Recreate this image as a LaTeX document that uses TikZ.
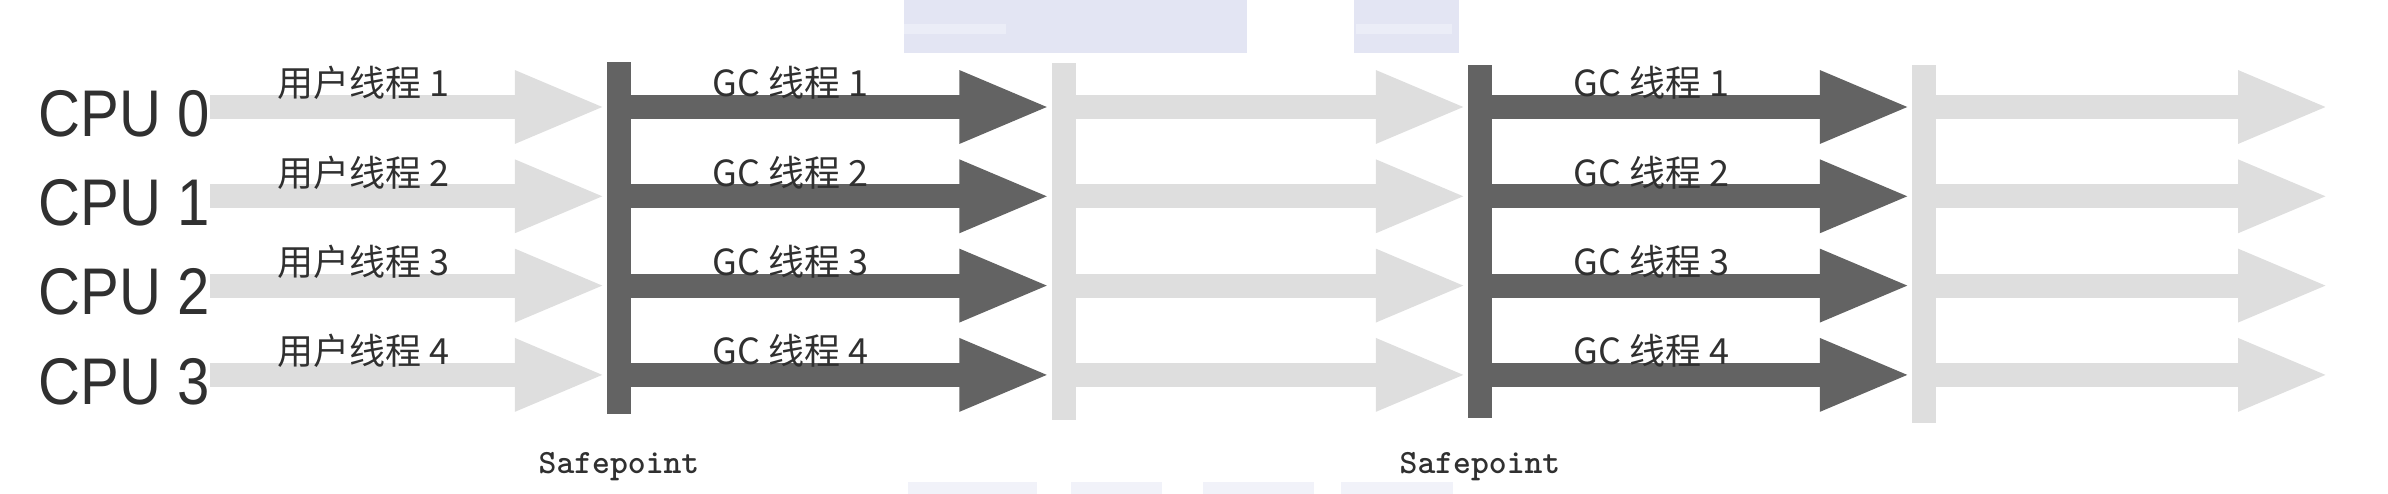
\documentclass[tikz,border=0pt]{standalone}
\usepackage{fontspec}
\newfontfamily\cpufont[FakeStretch=0.88]{Liberation Sans}
\newfontfamily\cjkfont{Noto Sans CJK SC}
\usetikzlibrary{arrows.meta}

\definecolor{gcgray}{HTML}{636363}
\definecolor{usergray}{HTML}{DEDEDE}
\definecolor{textgray}{HTML}{303030}
\definecolor{watermark}{HTML}{E3E5F3}

\tikzset{
  cpu/.style={anchor=east, inner sep=0pt, text=textgray, font=\cpufont\fontsize{66}{66}\selectfont},
  thread/.style={anchor=base west, inner sep=0pt, text=textgray, font=\cjkfont\fontsize{36}{36}\selectfont},
  safe/.style={anchor=base, inner sep=0pt, text=textgray, font=\ttfamily\bfseries\fontsize{34}{34}\selectfont},
  userarrow/.style={draw=usergray, line width=24pt, -{Triangle[length=92pt,width=66pt]}},
  gcarrow/.style={userarrow, draw=gcgray},
  darkbar/.style={fill=gcgray, minimum width=24pt, inner sep=0pt},
  lightbar/.style={fill=usergray, minimum width=24pt, inner sep=0pt},
}

\begin{document}
\begin{tikzpicture}[x=1pt, y=-1pt]
\useasboundingbox (0,0) rectangle (2388,494);
% fond
\fill [watermark] (904,0) rectangle (1247,53);
\fill [watermark] (1354,0) rectangle (1459,53);
\fill [watermark!70] (904,24) rectangle (1006,34);
\fill [watermark!70] (1356,24) rectangle (1452,34);
\fill [watermark!50] (908,482) rectangle (1037,494);
\fill [watermark!50] (1071,482) rectangle (1162,494);
\fill [watermark!50] (1203,482) rectangle (1314,494);
\fill [watermark!50] (1341,482) rectangle (1453,494);
% barres
\node [darkbar, minimum height=352pt] (safepoint1) at (619,238) {};
\node [lightbar, minimum height=357pt] (resume1) at (1063.5,241.5) {};
\node [darkbar, minimum height=353pt] (safepoint2) at (1480,241.5) {};
\node [lightbar, minimum height=358pt] (resume2) at (1924,244) {};
\node [safe] (sp1) at (619,473) {Safepoint};
\node [safe] (sp2) at (1480,473) {Safepoint};
% fleches
\foreach \i in {0,...,3} {
  \coordinate (row\i) at (0,107+89.3*\i);
  \coordinate (end\i) at (2330,107+89.3*\i);
  \node [cpu] (cpu\i) at (210,113.5+89.3*\i) {CPU \i};
  \draw [userarrow] (cpu\i.east |- row\i) -- (safepoint1.west |- row\i);
  \draw [gcarrow] (safepoint1.east |- row\i) -- (resume1.west |- row\i);
  \draw [userarrow] (resume1.east |- row\i) -- (safepoint2.west |- row\i);
  \draw [gcarrow] (safepoint2.east |- row\i) -- (resume2.west |- row\i);
  \draw [userarrow] (resume2.east |- row\i) -- (end\i);
}
% etiquettes
\foreach \i [evaluate=\i as \n using int(\i+1)] in {0,...,3} {
  \node [thread] (user\i) at (277,97+89.3*\i) {用户线程 \n};
  \node [thread] (gca\i) at (712,97+89.3*\i) {GC 线程 \n};
  \node [thread] (gcb\i) at (1573,97+89.3*\i) {GC 线程 \n};
}
\end{tikzpicture}
\end{document}
